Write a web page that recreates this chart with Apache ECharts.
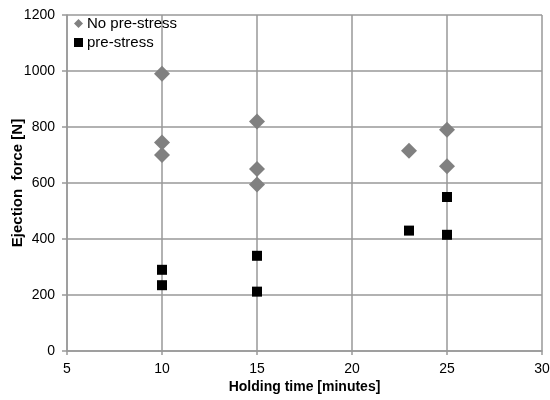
<!DOCTYPE html>
<html>
<head>
<meta charset="utf-8">
<script src="https://cdn.jsdelivr.net/npm/echarts@6/dist/echarts.min.js"></script>
<style>
html,body{margin:0;padding:0;background:#fff;}
#chart{width:550px;height:400px;}
</style>
</head>
<body>
<div id="chart"></div>
<script>
// Holding time (minutes) and ejection force (N) for each condition
var noPreStressTime  = [10, 10, 10, 15, 15, 15, 23, 25, 25];
var noPreStressForce = [990, 745, 700, 820, 650, 595, 715, 790, 660];
var preStressTime    = [10, 10, 15, 15, 23, 25, 25];
var preStressForce   = [290, 235, 340, 212, 430, 550, 415];

var xTicks = [5, 10, 15, 20, 25, 30];
var yTicks = [0, 200, 400, 600, 800, 1000, 1200];

function pairs(xs, ys) {
  return xs.map(function (x, i) { return [x, ys[i]]; });
}

var font = 'Liberation Sans, Arial, sans-serif';
var gridColor = '#999999';

var chart = echarts.init(document.getElementById('chart'), null, {renderer: 'canvas'});
chart.setOption({
  animation: false,
  backgroundColor: '#ffffff',
  grid: {left: 67, right: 8, top: 15, bottom: 49, containLabel: false, outerBoundsMode: 'none'},
  legend: {
    left: 74, top: 16, orient: 'vertical', itemGap: 4,
    itemWidth: 9, itemHeight: 9, padding: 0,
    textStyle: {fontFamily: font, fontSize: 15, lineHeight: 15, color: '#000', padding: [0, 0, 0, -1]},
    data: [
      {name: 'No pre-stress', icon: 'diamond'},
      {name: 'pre-stress', icon: 'rect'}
    ]
  },
  xAxis: {
    type: 'value',
    min: xTicks[0], max: xTicks[xTicks.length - 1], interval: 5,
    name: 'Holding time [minutes]', nameLocation: 'middle', nameGap: 29,
    nameMoveOverlap: false,
    nameTextStyle: {fontFamily: font, fontSize: 14, fontWeight: 'bold', color: '#000'},
    axisLine: {show: true, lineStyle: {color: gridColor, width: 1.5}},
    axisTick: {show: true, length: 4, inside: false, lineStyle: {color: gridColor, width: 1.5}},
    axisLabel: {fontFamily: font, fontSize: 14, color: '#000', margin: 11,
      formatter: function (v) { return String(v); }},
    splitLine: {show: true, lineStyle: {color: gridColor, width: 1.5}}
  },
  yAxis: {
    type: 'value',
    min: yTicks[0], max: yTicks[yTicks.length - 1], interval: 200,
    name: 'Ejection  force [N]', nameLocation: 'middle', nameGap: 42,
    nameMoveOverlap: false,
    nameTextStyle: {fontFamily: font, fontSize: 15, fontWeight: 'bold', color: '#000'},
    axisLine: {show: true, lineStyle: {color: gridColor, width: 1.5}},
    axisTick: {show: true, length: 5, lineStyle: {color: gridColor, width: 1.5}},
    axisLabel: {fontFamily: font, fontSize: 14, color: '#000', margin: 12,
      formatter: function (v) { return String(v); }},
    splitLine: {show: true, lineStyle: {color: gridColor, width: 1.5}}
  },
  series: [
    {
      name: 'No pre-stress', type: 'scatter', symbol: 'diamond', symbolSize: 16,
      itemStyle: {color: '#808080', opacity: 1},
      data: pairs(noPreStressTime, noPreStressForce)
    },
    {
      name: 'pre-stress', type: 'scatter', symbol: 'rect', symbolSize: 10,
      itemStyle: {color: '#000000', opacity: 1},
      data: pairs(preStressTime, preStressForce)
    }
  ]
});
</script>
</body>
</html>
